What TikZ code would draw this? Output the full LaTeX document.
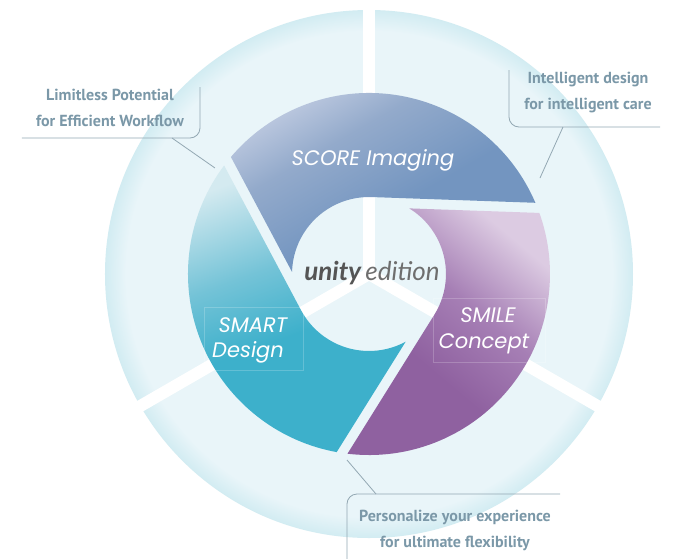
\documentclass[tikz,border=0pt]{standalone}
\usepackage{fontspec}
\newfontfamily\ptsans{PT Sans}
\newfontfamily\lato{Lato}
\newfontfamily\popp{Poppins}
\definecolor{ringbg}{HTML}{E9F5F9}
\definecolor{ringrim}{HTML}{D2ECF2}
\definecolor{scoreL}{HTML}{C8D1E5}
\definecolor{scoreM}{HTML}{93AACB}
\definecolor{scoreD}{HTML}{7395C0}
\definecolor{smileL}{HTML}{DCCBE2}
\definecolor{smileM}{HTML}{A67FB5}
\definecolor{smileD}{HTML}{8F61A0}
\definecolor{smartL}{HTML}{D4EAF0}
\definecolor{smartM}{HTML}{74C3D7}
\definecolor{smartD}{HTML}{3DB0CB}
\definecolor{calltext}{HTML}{7B98A8}
\definecolor{callline}{HTML}{93A8B3}
\definecolor{unityc}{HTML}{555555}
\definecolor{editc}{HTML}{6E6E6E}
\pgfdeclareradialshading{bigring}{\pgfpointorigin}{color(0bp)=(ringbg); color(23bp)=(ringbg); color(25bp)=(ringrim); color(50bp)=(ringrim)}
\pgfdeclareverticalshading{scoreshade}{100bp}{color(0bp)=(scoreD); color(25bp)=(scoreD); color(42bp)=(scoreD); color(60bp)=(scoreM); color(75bp)=(scoreL); color(100bp)=(scoreL)}
\pgfdeclareverticalshading{smileshade}{100bp}{color(0bp)=(smileD); color(25bp)=(smileD); color(42bp)=(smileD); color(58bp)=(smileM); color(75bp)=(smileL); color(100bp)=(smileL)}
\pgfdeclareverticalshading{smartshade}{100bp}{color(0bp)=(smartD); color(25bp)=(smartD); color(45bp)=(smartD); color(58bp)=(smartM); color(75bp)=(smartL); color(100bp)=(smartL)}
\tikzset{
  lab/.style={font=\popp\itshape\fontsize{21}{22}\selectfont, text=white, inner sep=0pt, anchor=base},
  callt/.style={font=\ptsans\bfseries\fontsize{16}{26}\selectfont, text=calltext, align=center, inner sep=0pt},
  callframe/.style={draw=callline, line width=0.8pt, rounded corners=10pt},
  leader/.style={draw=callline, line width=0.8pt},
  spoke/.style={draw=white, line width=12pt},
  faintbox/.style={draw=white, draw opacity=0.2, line width=0.6pt}
}
\begin{document}
\begin{tikzpicture}[x=1pt,y=1pt]
\useasboundingbox (-369,-284) rectangle (306,274);
\fill[white] (-369,-284) rectangle (306,274);
% big background disc with rim
\shade[shading=bigring] (0,0) circle[radius=264];
% spokes
\draw[spoke] (0,0) -- (90:270);
\draw[spoke] (0,0) -- (210:270);
\draw[spoke] (0,0) -- (330:270);
\fill[white] (0,0) circle[radius=7];
% segments
\shade[shading=scoreshade, shading angle=30]
  (88:77) -- (23.17:181) arc[start angle=23.17, end angle=139.72, radius=181]
  -- (178.46:77) arc[start angle=178.46, end angle=88, radius=77] -- cycle;
\shade[shading=smileshade, shading angle=-40]
  (-32:77) -- (-96.83:181) arc[start angle=-96.83, end angle=19.72, radius=181]
  -- (58.46:77) arc[start angle=58.46, end angle=-32, radius=77] -- cycle;
\shade[shading=smartshade, shading angle=20]
  (208:77) -- (143.17:181) arc[start angle=143.17, end angle=259.72, radius=181]
  -- (298.46:77) arc[start angle=298.46, end angle=208, radius=77] -- cycle;
% faint text boxes
\draw[faintbox] (-165,-33) rectangle (-66,-96);
\draw[faintbox] (64,-24) rectangle (176,-88);
% labels
\node[lab] (score) at (4,109) {SCORE Imaging};
\node[lab] (smartA) at (-116,-58) {SMART};
\node[lab] (smartB) at (-121,-83) {Design};
\node[lab] (smileA) at (119,-48) {SMILE};
\node[lab] (smileB) at (115,-74) {Concept};
% centre title
\node[anchor=base, inner sep=0pt, font=\lato\itshape\fontsize{26}{26}\selectfont] (unity) at (3,-6)
  {\textcolor{unityc}{\bfseries unity}\,\textcolor{editc}{edition}};
% callout 1
\coordinate (c1a) at (-169,187);
\coordinate (c1b) at (-169,136);
\coordinate (c1c) at (-347,136);
\coordinate (c1d) at (-197,136);
\coordinate (c1e) at (-154,106);
\draw[callframe] (c1a) -- (c1b) -- (c1c);
\draw[leader] (c1d) -- (c1e);
\node[callt] (t1) at (-259,166) {Limitless Potential\\for Efficient Workflow};
% callout 2
\coordinate (c2a) at (140,204);
\coordinate (c2b) at (140,147);
\coordinate (c2c) at (291,147);
\coordinate (c2d) at (194,147);
\coordinate (c2e) at (171,96);
\draw[callframe] (c2a) -- (c2b) -- (c2c);
\draw[leader] (c2d) -- (c2e);
\node[callt] (t2) at (219,181) {Intelligent design\\for intelligent care};
% callout 3
\coordinate (c3a) at (191,-220);
\coordinate (c3b) at (-22,-220);
\coordinate (c3c) at (-22,-290);
\coordinate (c3d) at (7,-220);
\coordinate (c3e) at (-22,-186);
\draw[callframe] (c3a) -- (c3b) -- (c3c);
\draw[leader] (c3d) -- (c3e);
\node[callt] (t3) at (86,-256) {Personalize your experience\\for ultimate flexibility};
\end{tikzpicture}
\end{document}
